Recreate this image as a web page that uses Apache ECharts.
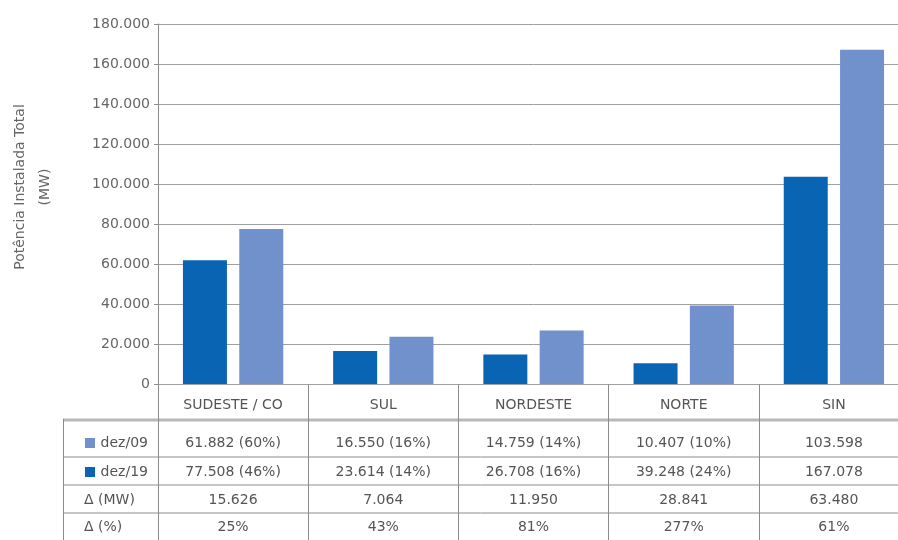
<!DOCTYPE html>
<html>
<head>
<meta charset="utf-8">
<script src="https://cdn.jsdelivr.net/npm/echarts/dist/echarts.min.js"></script>
<style>
  html, body { margin: 0; padding: 0; background: #fff; width: 898px; height: 540px; overflow: hidden; }
  #chart { width: 920px; height: 540px; }
</style>
</head>
<body>
<div id="chart"></div>
<script>
// Installed capacity by subsystem (MW)
const regions = ['SUDESTE / CO', 'SUL', 'NORDESTE', 'NORTE', 'SIN'];
const capacityDez09 = [61882, 16550, 14759, 10407, 103598];
const capacityDez19 = [77508, 23614, 26708, 39248, 167078];
const shareDez09 = [60, 16, 14, 10, null];
const shareDez19 = [46, 14, 16, 24, null];
const deltaMW = [15626, 7064, 11950, 28841, 63480];
const deltaPct = [25, 43, 81, 277, 61];
const rowLabels = ['dez/09', 'dez/19', '\u0394 (MW)', '\u0394 (%)'];
const yAxisTitle = ['Potência Instalada Total', '(MW)'];
const yMax = 180000;
const yStep = 20000;

const DARK = '#0a64b4';
const LIGHT = '#7191cd';
const FONT = 'DejaVu Sans';
const TEXT = '#555';
const FS = 14;
const GRID_LEFT = 158, GRID_TOP = 24, GRID_BOTTOM_Y = 384, GRID_RIGHT_X = 909;

const fmt = n => String(n).replace(/\B(?=(\d{3})+(?!\d))/g, '.');
const withShare = (vals, shares) => vals.map((v, i) => shares[i] == null ? fmt(v) : fmt(v) + ' (' + shares[i] + '%)');

// Table rows: [labels, vertical centre of the row]
const tableRows = [
  [withShare(capacityDez09, shareDez09), 443],
  [withShare(capacityDez19, shareDez19), 472],
  [deltaMW.map(fmt), 500],
  [deltaPct.map(v => v + '%'), 527]
];

const rowAxis = (labels, centerY) => ({
  type: 'category',
  gridIndex: 0,
  position: 'bottom',
  offset: centerY - GRID_BOTTOM_Y,
  data: labels,
  axisLine: { show: false },
  axisTick: { show: false },
  splitLine: { show: false },
  axisLabel: { interval: 0, margin: 0, verticalAlign: 'middle', color: TEXT, fontSize: FS, fontFamily: FONT }
});

const chart = echarts.init(document.getElementById('chart'), null, { renderer: 'canvas' });
const W = 920, H = 540;

const graphics = [];
// horizontal table rules
[[420, 3, '#b8b8b8'], [457, 1, '#8c8c8c'], [485, 1, '#8c8c8c'], [513, 1, '#8c8c8c']].forEach(([y, w, c]) => {
  graphics.push({ type: 'line', shape: { x1: 63, y1: y, x2: 898, y2: y }, style: { stroke: c, lineWidth: w }, silent: true });
});
// left border of the table
graphics.push({ type: 'line', shape: { x1: 63.5, y1: 419, x2: 63.5, y2: 540 }, style: { stroke: '#8c8c8c', lineWidth: 1 } });
// row headers
const swatchColors = [LIGHT, DARK];
tableRows.forEach((row, i) => {
  const y = row[1];
  if (i < 2) {
    graphics.push({ type: 'rect', shape: { x: 85, y: y - 5, width: 10, height: 10 }, style: { fill: swatchColors[i] } });
    graphics.push({ type: 'text', x: 148, y: y, style: { text: rowLabels[i], align: 'right', verticalAlign: 'middle', fill: TEXT, fontSize: FS, fontFamily: FONT } });
  } else {
    graphics.push({ type: 'text', x: 84, y: y, style: { text: rowLabels[i], align: 'left', verticalAlign: 'middle', fill: TEXT, fontSize: FS, fontFamily: FONT } });
  }
});
// rotated y-axis title
graphics.push({ type: 'text', x: 20, y: 187, rotation: Math.PI / 2, style: { text: yAxisTitle[0], align: 'center', verticalAlign: 'middle', fill: '#666', fontSize: 14, fontFamily: FONT } });
graphics.push({ type: 'text', x: 45, y: 187, rotation: Math.PI / 2, style: { text: yAxisTitle[1], align: 'center', verticalAlign: 'middle', fill: '#666', fontSize: 14, fontFamily: FONT } });

chart.setOption({
  animation: false,
  backgroundColor: '#fff',
  grid: { left: GRID_LEFT, top: GRID_TOP, right: W - GRID_RIGHT_X, bottom: H - GRID_BOTTOM_Y, containLabel: false },
  xAxis: [
    {
      type: 'category',
      data: regions,
      position: 'bottom',
      axisLine: { show: true, lineStyle: { color: '#a0a0a0', width: 1 } },
      axisTick: { show: true, length: 156, lineStyle: { color: '#8c8c8c', width: 1 } },
      axisLabel: { interval: 0, margin: 21, verticalAlign: 'middle', color: TEXT, fontSize: FS, fontFamily: FONT },
      splitLine: { show: false }
    }
  ].concat(tableRows.map(r => rowAxis(r[0], r[1]))),
  yAxis: {
    type: 'value',
    min: 0,
    max: yMax,
    interval: yStep,
    axisLine: { show: true, lineStyle: { color: '#8c8c8c' } },
    axisTick: { show: true, length: 4, lineStyle: { color: '#8c8c8c' } },
    axisLabel: { color: '#666', fontSize: FS, fontFamily: FONT, margin: 8, formatter: v => fmt(v) },
    splitLine: { show: true, lineStyle: { color: '#a0a0a0', width: 1 } }
  },
  series: [
    { name: 'dez/09', type: 'bar', data: capacityDez09, barWidth: 44, barGap: '28%', itemStyle: { color: DARK } },
    { name: 'dez/19', type: 'bar', data: capacityDez19, barWidth: 44, barGap: '28%', itemStyle: { color: LIGHT } }
  ],
  graphic: graphics
});
</script>
</body>
</html>
